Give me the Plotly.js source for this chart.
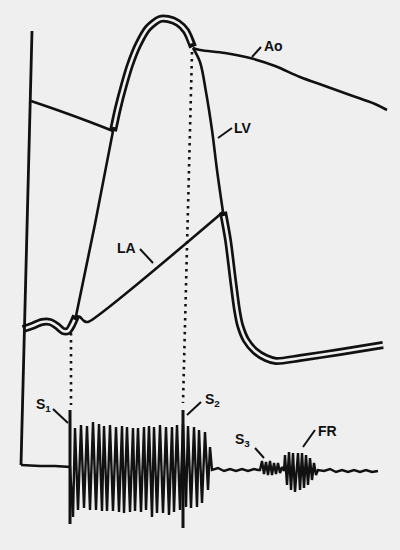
<!DOCTYPE html>
<html>
<head>
<meta charset="utf-8">
<script src="https://cdn.plot.ly/plotly-3.0.1.min.js"></script>
<style>
html,body{margin:0;padding:0;background:#efefef;}
#chart{width:400px;height:550px;}
</style>
</head>
<body>
<div id="chart"></div>
<script>
// ---- Data (drawing units: x right, y down) ----
// Pressure axis + phono baseline frame
var axisX = [32, 21, 21];
var axisY = [31, 463, 465];

// Aortic pressure before ejection (diastolic decay)
var aoPreX = [31, 60, 90, 113];
var aoPreY = [101, 111, 122, 131];
// Aortic pressure after the LV/Ao crossover
var aoPostX = [193, 200, 225, 250, 275, 300, 325, 350, 375, 387];
var aoPostY = [48, 50, 53, 58, 66, 77, 86, 95, 104, 110];

// LV isovolumic upstroke (single line)
var lvUpX = [76, 95, 113];
var lvUpY = [316, 224, 131];
// LV + Ao during ejection (double line)
var lvEjX = [113, 118, 124, 130, 138, 148, 160, 168, 178, 186, 193];
var lvEjY = [131, 108, 85, 65, 45, 28, 19, 19, 23, 31, 47];
// LV isovolumic relaxation (single line)
var lvRelX = [193, 200, 206, 212, 217, 223];
var lvRelY = [48, 62, 92, 130, 170, 212];
// LV + LA during filling (double line)
var lvFillX = [223, 228, 233, 237, 240, 246, 255, 266, 276, 300, 340, 383];
var lvFillY = [212, 240, 280, 310, 325, 340, 351, 358, 361, 358, 352, 345];

// LA + LV at end-diastole (double line)
var laDiaX = [23, 32, 42, 50, 57, 63, 68, 72, 76];
var laDiaY = [329, 326, 322, 322, 326, 331, 331, 325, 316];
// LA during systole (single line, v-wave rise)
var laSysX = [76, 80, 84, 88, 223];
var laSysY = [316, 317, 321, 322, 212];

// Dotted timing lines
var dot1X = [71, 71];
var dot1Y = [333, 405];
var dot2X = [192, 183];
var dot2Y = [52, 403];

// Heart sound bars S1, S2
var s1BarX = [70, 70];
var s1BarY = [410, 524];
var s2BarX = [183, 183];
var s2BarY = [410, 528];

// Phonocardiogram trace
var phonoX = [21, 40, 55, 70,
  73, 75, 78, 81, 84, 87, 90, 93, 96, 99, 102, 104, 107, 110, 113, 116, 119, 122, 124, 127,
  130, 133, 135, 138, 141, 144, 146, 149, 152, 154, 157, 160, 163, 166, 169, 172, 174, 177,
  180, 183, 186, 188, 191, 194, 197, 199, 202, 205, 208, 210, 212,
  218, 224, 230, 236, 242, 248, 254, 258,
  260, 262, 264, 266, 268, 270, 272, 274, 276, 278, 280, 282, 284,
  285, 287, 289, 291, 293, 295, 298, 300, 302, 304, 306, 308, 310, 312, 314, 316, 318,
  324, 330, 336, 342, 348, 354, 360, 366, 372, 378];
var phonoY = [465, 466, 466, 467,
  517, 428, 510, 425, 508, 426, 510, 422, 510, 424, 511, 426, 511, 425, 511, 427, 512, 426, 513, 427,
  512, 428, 511, 428, 512, 427, 510, 426, 517, 427, 513, 425, 513, 427, 515, 427, 512, 425,
  510, 424, 507, 426, 508, 427, 507, 430, 503, 432, 490, 447, 470,
  468, 471, 469, 471, 469, 471, 469, 470,
  470, 461, 474, 462, 475, 461, 475, 463, 474, 463, 473, 467, 471,
  455, 485, 452, 490, 453, 492, 453, 490, 453, 488, 455, 485, 458, 480, 463, 475, 470,
  471, 469, 472, 470, 472, 470, 472, 470, 472, 471];

// Labels
var labelText = ["Ao", "LV", "LA", "S<sub>1</sub>", "S<sub>2</sub>", "S<sub>3</sub>", "FR"];
var labelX = [273, 243, 126, 43, 212, 242, 327];
var labelY = [46, 128, 248, 405, 400, 440, 431];
// Leader lines (from curve to label)
var leadX0 = [252, 218, 153, 68, 187, 264, 303];
var leadY0 = [57, 138, 263, 423, 415, 458, 447];
var leadX1 = [261, 232, 140, 53, 201, 255, 315];
var leadY1 = [47, 128, 249, 409, 402, 448, 430];

// ---- Drawing ----
var INK = '#111111';
var BG = '#efefef';
var traces = [];
function line(x, y, w, opts) {
  opts = opts || {};
  traces.push({
    x: x, y: y, type: 'scatter', mode: 'lines', hoverinfo: 'skip', showlegend: false,
    line: {color: opts.color || INK, width: w, shape: opts.shape || 'linear',
           smoothing: opts.smoothing || 1, dash: opts.dash || 'solid'}
  });
}
// shorten a polyline by d at its start (and optionally its end) so the white core closes
function cut(xs, ys, d) {
  var rx = xs.slice(), ry = ys.slice(), rem = d;
  while (rx.length > 2) {
    var L = Math.hypot(rx[1] - rx[0], ry[1] - ry[0]);
    if (L > rem) break;
    rem -= L; rx.shift(); ry.shift();
  }
  var L2 = Math.hypot(rx[1] - rx[0], ry[1] - ry[0]);
  var t = Math.min(rem / L2, 0.9);
  rx[0] = rx[0] + (rx[1] - rx[0]) * t;
  ry[0] = ry[0] + (ry[1] - ry[0]) * t;
  return [rx, ry];
}
function trim(x, y, dStart, dEnd) {
  var a = dStart > 0 ? cut(x, y, dStart) : [x.slice(), y.slice()];
  if (dEnd > 0) {
    var b = cut(a[0].slice().reverse(), a[1].slice().reverse(), dEnd);
    a = [b[0].reverse(), b[1].reverse()];
  }
  return a;
}
function doubleLine(x, y, dStart, dEnd) {
  line(x, y, 8, {shape: 'spline', smoothing: 0.8});
  var t = trim(x, y, dStart, dEnd);
  line(t[0], t[1], 2.6, {shape: 'spline', smoothing: 0.8, color: BG});
}

line(phonoX, phonoY, 2.4);
line(aoPreX, aoPreY, 2.6, {shape: 'spline'});
line(aoPostX, aoPostY, 2.6, {shape: 'spline'});
line(lvUpX, lvUpY, 2.6);
line(lvRelX, lvRelY, 2.6, {shape: 'spline'});
line(laSysX, laSysY, 2.6, {shape: 'spline', smoothing: 0.6});
doubleLine(lvEjX, lvEjY, 4, 4);
doubleLine(lvFillX, lvFillY, 4, 0);
doubleLine(laDiaX, laDiaY, 0, 4);
line(axisX, axisY, 2.8);
line(dot1X, dot1Y, 2.6, {dash: '2.5px,4.5px'});
line(dot2X, dot2Y, 2.6, {dash: '2.5px,4.5px'});
line(s1BarX, s1BarY, 3);
line(s2BarX, s2BarY, 3);
for (var i = 0; i < labelText.length; i++) {
  line([leadX0[i], leadX1[i]], [leadY0[i], leadY1[i]], 2);
}

var annotations = labelText.map(function (t, i) {
  return {x: labelX[i], y: labelY[i], xref: 'x', yref: 'y', text: t, showarrow: false,
          xanchor: 'center', yanchor: 'middle',
          font: {family: 'Liberation Sans, Arial, sans-serif', size: 14, color: INK, weight: 'bold'}};
});

var layout = {
  width: 400, height: 550,
  margin: {l: 0, r: 0, t: 0, b: 0, pad: 0},
  paper_bgcolor: BG, plot_bgcolor: BG,
  xaxis: {range: [0, 400], visible: false, fixedrange: true},
  yaxis: {range: [550, 0], visible: false, fixedrange: true},
  annotations: annotations,
  showlegend: false
};
Plotly.newPlot('chart', traces, layout, {staticPlot: true, displayModeBar: false});
</script>
</body>
</html>
